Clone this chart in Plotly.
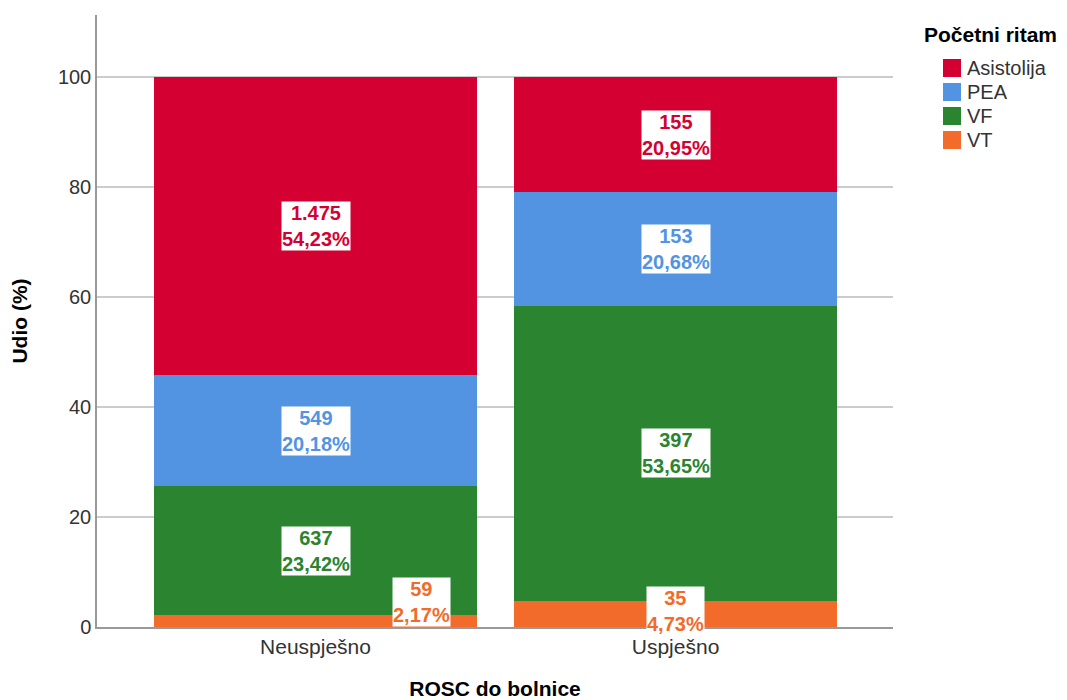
import plotly.graph_objects as go

categories = ["Neuspješno", "Uspješno"]
series_names = ["VT", "VF", "PEA", "Asistolija"]
legend_order = ["Asistolija", "PEA", "VF", "VT"]
counts = {
    "VT": [59, 35],
    "VF": [637, 397],
    "PEA": [549, 153],
    "Asistolija": [1475, 155],
}
percents = {
    "VT": [2.17, 4.73],
    "VF": [23.42, 53.65],
    "PEA": [20.18, 20.68],
    "Asistolija": [54.23, 20.95],
}
colors = {
    "VT": "#F26B2B",
    "VF": "#2A8430",
    "PEA": "#5294E2",
    "Asistolija": "#D50032",
}

FONT = "Liberation Sans, Arial, sans-serif"

W, H = 1059, 692
ML, MR, MT, MB = 89, 174, 7, 73
PW, PH = W - ML - MR, H - MT - MB

def px(fx):
    return (fx - ML) / PW

def py(fy):
    return (H - MB - fy) / PH

fig = go.Figure()
for s in series_names:
    fig.add_trace(go.Bar(
        x=categories, y=percents[s], name=s,
        marker=dict(color=colors[s], line=dict(width=0)),
        hoverinfo="skip", showlegend=False,
    ))

def fmt_count(n):
    return f"{n:,}".replace(",", ".")

def fmt_pct(p):
    return f"{p:.2f}".replace(".", ",") + "%"

annotations = []
for ci, cat in enumerate(categories):
    base = 0.0
    for s in series_names:
        p = percents[s][ci]
        mid = base + p / 2
        base += p
        txt = f"<b>{fmt_count(counts[s][ci])}</b><br><b>{fmt_pct(p)}</b>"
        a = dict(x=cat, y=mid, xref="x", yref="y", text=txt, showarrow=False,
                 bgcolor="white", borderpad=0,
                 font=dict(family=FONT, size=20, color=colors[s]))
        if s == "VT":
            if ci == 0:
                a.update(y=0, yanchor="bottom", xshift=106)
            else:
                a.update(yshift=3)
        annotations.append(a)

# custom legend (title, swatches, labels)
shapes = []
annotations.append(dict(
    x=px(914), y=py(27), xref="paper", yref="paper", xanchor="left", yanchor="middle",
    text="<b>Početni ritam</b>", showarrow=False,
    font=dict(family=FONT, size=21, color="black"),
))
for i, s in enumerate(legend_order):
    cy = 60 + 24 * i
    shapes.append(dict(
        type="rect", xref="paper", yref="paper",
        x0=px(935), x1=px(953), y0=py(cy - 9), y1=py(cy + 9),
        fillcolor=colors[s], line=dict(width=0), layer="above",
    ))
    annotations.append(dict(
        x=px(957), y=py(cy), xref="paper", yref="paper", xanchor="left", yanchor="middle",
        text=s, showarrow=False,
        font=dict(family=FONT, size=20, color="#333333"),
    ))

fig.update_layout(
    width=W, height=H,
    margin=dict(l=ML, r=MR, t=MT, b=MB),
    plot_bgcolor="white", paper_bgcolor="white",
    barmode="stack", bargap=0.103,
    font=dict(family=FONT, size=20, color="#333333"),
    annotations=annotations,
    shapes=shapes,
    showlegend=False,
    xaxis=dict(
        range=[-0.607, 1.604], automargin=False,
        showline=True, linecolor="#999999", linewidth=1.5,
        ticks="", showgrid=False,
        tickfont=dict(size=21, color="#333333"),
        title=dict(text="<b>ROSC do bolnice</b>", font=dict(size=21, color="black"), standoff=26),
    ),
    yaxis=dict(
        range=[0, 111.3], automargin=False,
        tickvals=[0, 20, 40, 60, 80, 100],
        showline=True, linecolor="#999999", linewidth=1.5,
        showgrid=True, gridcolor="#CCCCCC", gridwidth=1.5,
        zeroline=False, ticks="",
        tickfont=dict(size=20, color="#333333"),
        title=dict(text="<b>Udio (%)</b>", font=dict(size=21, color="black"), standoff=28),
    ),
)

fig.write_html("out.html")
